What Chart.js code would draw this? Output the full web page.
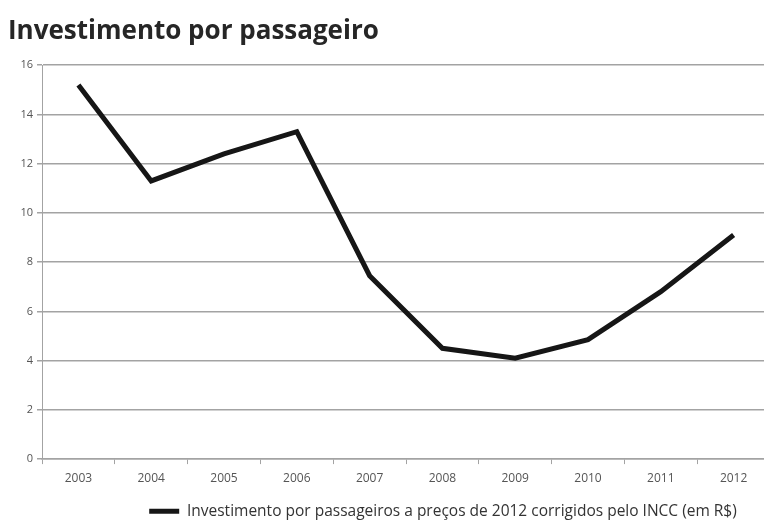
<!DOCTYPE html>
<html lang="pt">
<head>
<meta charset="utf-8">
<title>Investimento por passageiro</title>
<script src="https://cdn.jsdelivr.net/npm/chart.js@4"></script>
<style>
  html, body { margin: 0; padding: 0; background: #fff; overflow: hidden; }
  #wrap { position: relative; width: 770px; height: 521px; }
</style>
</head>
<body>
<div id="wrap"><canvas id="investChart"></canvas></div>
<script>
  // Series data
  const years = ['2003', '2004', '2005', '2006', '2007', '2008', '2009', '2010', '2011', '2012'];
  const investPerPassenger = [15.2, 11.3, 12.4, 13.3, 7.45, 4.5, 4.1, 4.85, 6.8, 9.1];
  const yTicks = [0, 2, 4, 6, 8, 10, 12, 14, 16];

  const seriesLabel = 'Investimento por passageiros a preços de 2012 corrigidos pelo INCC (em R$)';
  const chartTitle = 'Investimento por passageiro';

  const gridColor = '#a3a3a3';
  const tickColor = '#555';
  const baseFont = "'Open Sans', 'Noto Sans', sans-serif";

  // move the legend a little right and down, under the plot
  const legendShift = {
    id: 'legendShift',
    afterLayout(chart) {
      const lg = chart.legend;
      if (!lg) return;
      lg.left += 54;
      lg.right += 54;
      lg.top += 8;
      lg.bottom += 8;
    }
  };

  new Chart(document.getElementById('investChart'), {
    type: 'line',
    data: {
      labels: years,
      datasets: [{
        label: seriesLabel,
        data: investPerPassenger,
        borderColor: '#161616',
        backgroundColor: '#161616',
        borderWidth: 5,
        pointRadius: 0,
        pointHoverRadius: 0,
        tension: 0,
        fill: false
      }]
    },
    options: {
      responsive: true,
      maintainAspectRatio: false,
      animation: false,
      layout: { padding: { left: 8, right: 0, top: 0, bottom: 0 } },
      plugins: {
        title: {
          display: true,
          text: chartTitle,
          align: 'start',
          color: '#262626',
          font: { family: baseFont, size: 26, weight: 'bold' },
          padding: { top: 16, bottom: 18 }
        },
        legend: {
          position: 'bottom',
          labels: {
            usePointStyle: true,
            pointStyle: 'line',
            pointStyleWidth: 30,
            color: '#333',
            font: { family: baseFont, size: 15.5 },
            padding: 3
          }
        },
        tooltip: { enabled: false }
      },
      scales: {
        x: {
          offset: true,
          grid: {
            display: true,
            drawOnChartArea: false,
            offset: true,
            tickLength: 5,
            color: gridColor
          },
          border: { display: true, color: gridColor, width: 1.5 },
          ticks: {
            color: tickColor,
            font: { family: baseFont, size: 12 },
            padding: 7,
            maxRotation: 0
          }
        },
        y: {
          min: 0,
          max: 16,
          afterFit(scale) { scale.width = 34; },
          afterBuildTicks(scale) { scale.ticks = yTicks.map(v => ({ value: v })); },
          grid: {
            color: gridColor,
            lineWidth: 1.5,
            tickLength: 5
          },
          border: { display: true, color: gridColor, width: 1 },
          ticks: {
            color: tickColor,
            font: { family: baseFont, size: 11 },
            padding: 4
          }
        }
      }
    },
    plugins: [legendShift]
  });
</script>
</body>
</html>
